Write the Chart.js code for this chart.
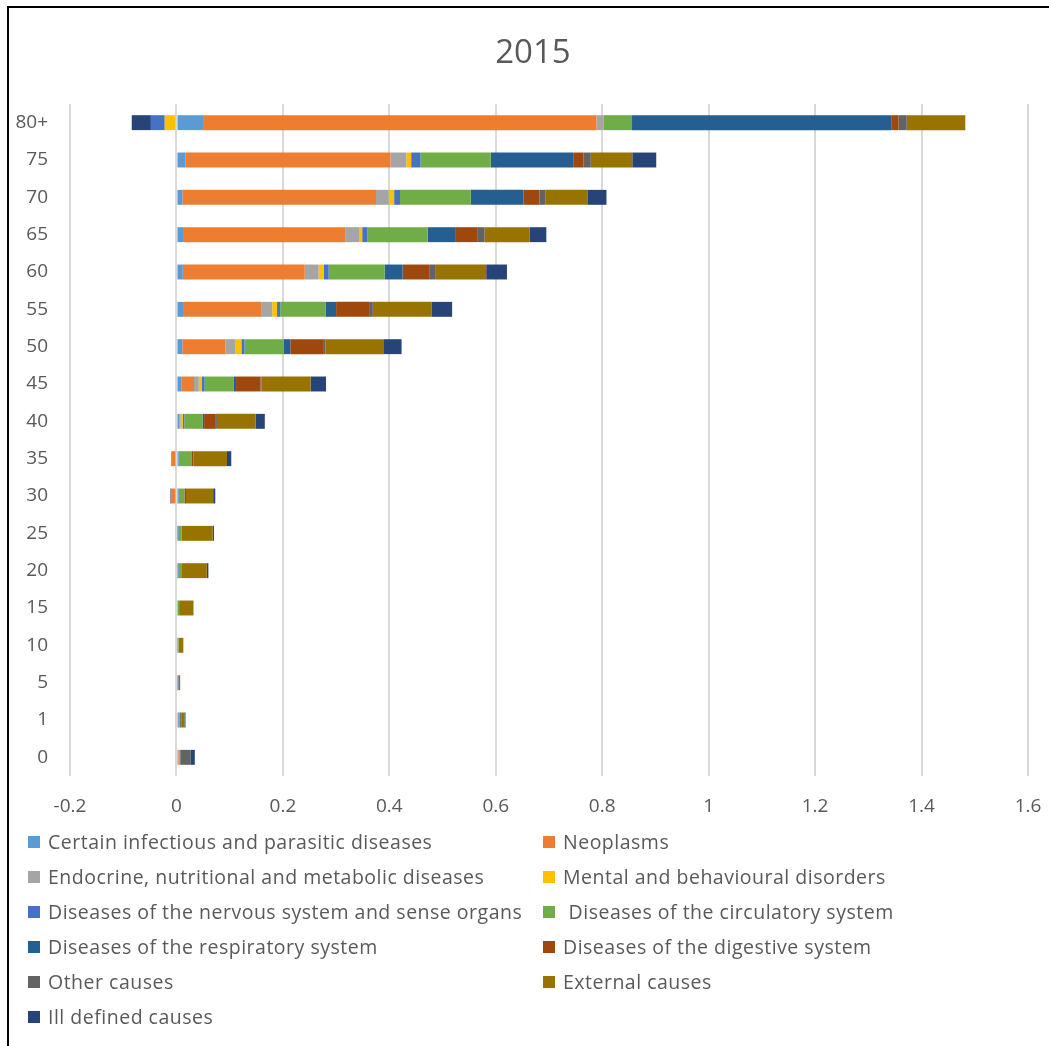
<!DOCTYPE html>
<html>
<head>
<meta charset="utf-8">
<script src="https://cdn.jsdelivr.net/npm/chart.js@4.4.0/dist/chart.umd.min.js"></script>
<style>
    body { margin: 0; background: #fff; }
    #wrap { position: relative; width: 1049px; height: 1046px; overflow: hidden; background: #fff; font-family: "Open Sans", sans-serif; }
    #frame { position: absolute; left: 7px; top: 6px; width: 1200px; height: 1200px; border-left: 2px solid #000; border-top: 2px solid #000; }
    #title { position: absolute; left: 433px; width: 200px; top: 28px; text-align: center; font-size: 33px; line-height: 46px; color: #595959; }
    #box { position: absolute; left: 0; top: 0; width: 1049px; height: 830px; }
    #legend { position: absolute; left: 28px; top: 824px; display: grid; grid-template-columns: 515px 480px; grid-auto-rows: 35px; }
    .item { display: flex; align-items: center; font-size: 19.5px; letter-spacing: 0.5px; color: #595959; white-space: pre; }
    .swatch { width: 12px; height: 12px; margin-right: 8px; flex: none; }
</style>
</head>
<body>
<div id="wrap">
    <div id="frame"></div>
    <div id="box"><canvas id="chart"></canvas></div>
    <div id="title">2015</div>
    <div id="legend"></div>
</div>
<script>
    // age groups, top to bottom
    const ageGroups = ["80+", "75", "70", "65", "60", "55", "50", "45", "40", "35", "30", "25", "20", "15", "10", "5", "1", "0"];
    const xTicks = [-0.2, 0, 0.2, 0.4, 0.6, 0.8, 1, 1.2, 1.4, 1.6];

    const causeNames = [
        "Certain infectious and parasitic diseases",
        "Neoplasms",
        "Endocrine, nutritional and metabolic diseases",
        "Mental and behavioural disorders",
        "Diseases of the nervous system and sense organs",
        " Diseases of the circulatory system",
        "Diseases of the respiratory system",
        "Diseases of the digestive system",
        "Other causes",
        "External causes",
        "Ill defined causes"
    ];
    const causeColors = ["#5B9BD5", "#ED7D31", "#A5A5A5", "#FFC000", "#4472C4", "#70AD47",
        "#255E91", "#9E480E", "#636363", "#997300", "#264478"];

    const infectious  = [0.050, 0.017, 0.011, 0.014, 0.012, 0.014, 0.011, 0.009, 0.005, 0.004, 0.003, 0, 0.002, 0, 0.002, 0.002, -0.002, 0.002];
    const neoplasms   = [0.739, 0.385, 0.364, 0.303, 0.229, 0.145, 0.081, 0.024, 0, -0.010, -0.009, 0, 0, 0, 0, 0, 0, 0.002];
    const endocrine   = [0.014, 0.030, 0.024, 0.026, 0.026, 0.021, 0.019, 0.009, 0.003, 0, 0, -0.002, 0, 0, 0, 0, 0.003, 0.003];
    const mental      = [-0.022, 0.009, 0.010, 0.006, 0.010, 0.009, 0.011, 0.006, 0.004, 0, 0, 0, 0, 0, 0, 0, 0, -0.002];
    const nervous     = [-0.026, 0.0175, 0.011, 0.010, 0.009, 0.006, 0.006, 0.005, 0.003, 0.002, 0.001, 0.004, 0.002, 0, 0.001, 0.002, 0.001, 0];
    const circulatory = [0.053, 0.132, 0.133, 0.113, 0.105, 0.085, 0.074, 0.055, 0.034, 0.022, 0.011, 0.006, 0.005, 0.005, 0.001, 0, 0.002, 0];
    const respiratory = [0.488, 0.156, 0.099, 0.053, 0.034, 0.020, 0.012, 0.004, 0.003, 0, 0, 0, 0, 0, 0, 0, 0.001, 0];
    const digestive   = [0.0126, 0.018, 0.030, 0.040, 0.051, 0.062, 0.063, 0.046, 0.022, 0.004, 0.003, 0, 0, 0, 0, 0, 0, 0];
    const other       = [0.0156, 0.014, 0.011, 0.014, 0.010, 0.007, 0.003, 0.002, 0.002, 0, -0.0025, 0, 0, 0, 0, 0, 0.002, 0.020];
    const external    = [0.110, 0.078, 0.079, 0.085, 0.096, 0.110, 0.110, 0.092, 0.073, 0.063, 0.051, 0.058, 0.048, 0.027, 0.009, 0.003, 0.006, 0];
    const illDefined  = [-0.036, 0.045, 0.036, 0.031, 0.039, 0.039, 0.033, 0.029, 0.017, 0.008, 0.004, 0.0025, 0.003, 0, 0, 0, 0.002, 0.0075];

    const seriesValues = [infectious, neoplasms, endocrine, mental, nervous, circulatory,
        respiratory, digestive, other, external, illDefined];

    const datasets = seriesValues.map((values, i) => ({
        label: causeNames[i],
        data: values,
        backgroundColor: causeColors[i],
        borderWidth: 0,
        barPercentage: 0.4,
        categoryPercentage: 1
    }));

    const textColor = "#595959";

    new Chart(document.getElementById("chart"), {
        type: "bar",
        data: { labels: ageGroups, datasets: datasets },
        options: {
            indexAxis: "y",
            responsive: true,
            maintainAspectRatio: false,
            animation: false,
            layout: { padding: { left: 10, right: 21, top: 104, bottom: 0 } },
            plugins: {
                legend: { display: false },
                tooltip: { enabled: false }
            },
            scales: {
                x: {
                    type: "linear",
                    stacked: true,
                    min: -0.2,
                    max: 1.6,
                    afterBuildTicks: (scale) => { scale.ticks = xTicks.map((v) => ({ value: v })); },
                    afterFit: (scale) => {
                        scale.height = 54;
                        scale.paddingLeft = 0;
                        scale.paddingRight = 0;
                    },
                    grid: { color: "#d9d9d9", lineWidth: 2, drawTicks: false },
                    border: { display: false },
                    ticks: {
                        color: textColor,
                        font: { family: "Open Sans", size: 19 },
                        padding: 19,
                        maxRotation: 0,
                        callback: (v) => String(parseFloat(Number(v).toFixed(1)))
                    }
                },
                y: {
                    stacked: true,
                    afterFit: (scale) => { scale.width = 60; },
                    grid: { display: false, drawTicks: false },
                    border: { display: false },
                    ticks: {
                        color: textColor,
                        font: { family: "Open Sans", size: 19 },
                        padding: 22
                    }
                }
            }
        }
    });

    // two-column legend under the chart
    const legendDiv = document.getElementById("legend");
    causeNames.forEach((name, i) => {
        const item = document.createElement("div");
        item.className = "item";
        const sw = document.createElement("span");
        sw.className = "swatch";
        sw.style.background = causeColors[i];
        const txt = document.createElement("span");
        txt.textContent = name;
        item.appendChild(sw);
        item.appendChild(txt);
        legendDiv.appendChild(item);
    });
</script>
</body>
</html>
